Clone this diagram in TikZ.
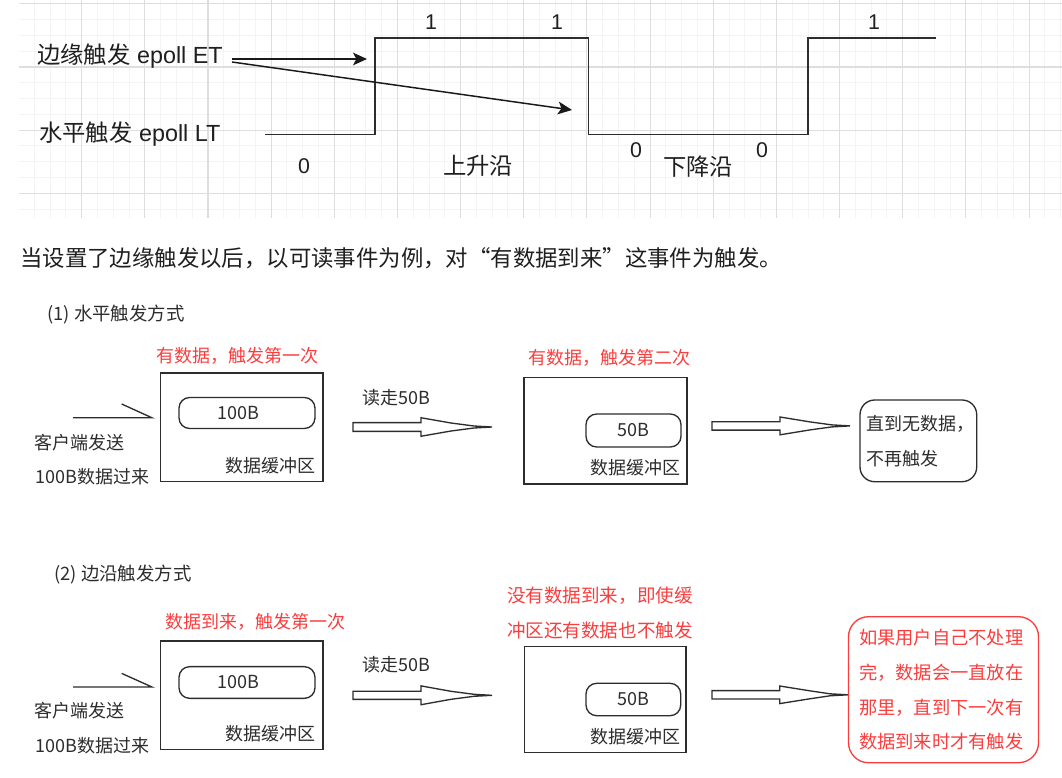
\documentclass[tikz,border=0pt]{standalone}
\usepackage{fontspec}
\setmainfont{Liberation Sans}
\newfontfamily\cjk{Noto Sans CJK SC}
\usetikzlibrary{arrows.meta}
\def\px{0.75pt}
\definecolor{redtx}{RGB}{250,62,62}
\definecolor{ink}{RGB}{45,45,45}
\newcommand\hollowarr[6]{%
  \draw[harr] (#1,#4-#5) -- (#2,#4-#5) -- (#2,#4-#6) -- (#2+30,#4-4) -- (#3-18,#4-1) -- (#3,#4)
    -- (#3-18,#4+1) -- (#2+30,#4+4) -- (#2,#4+#6) -- (#2,#4+#5) -- (#1,#4+#5) -- cycle;}
\tikzset{
  gridminor/.style={draw={rgb,255:red,244;green,244;blue,244}, line width=0.75pt},
  gridmajor/.style={draw={rgb,255:red,222;green,222;blue,222}, line width=0.8pt},
  wave/.style={draw=ink, line width=1.3pt, line join=miter},
  etarrow/.style={draw=black!90, line width=1.1pt, -{Stealth[length=10.5pt,width=9.5pt,inset=2.5pt]}},
  toplbl/.style={inner sep=0pt, text=black!88, font={\fontsize{17.5pt}{20pt}\selectfont}},
  digit/.style={inner sep=0pt, text=black!88, font={\fontsize{16pt}{18pt}\selectfont}},
  edge lbl/.style={inner sep=0pt, text=black!88, font={\cjk\fontsize{17.5pt}{20pt}\selectfont}},
  captxt/.style={inner sep=0pt, text=black!88, font={\cjk\fontsize{16.8pt}{20pt}\selectfont}},
  ttl/.style={inner sep=0pt, text=ink, font={\cjk\fontsize{13.8pt}{15pt}\selectfont}},
  lowtxt/.style={inner sep=0pt, text=ink, font={\cjk\fontsize{13.5pt}{16pt}\selectfont}},
  redtxt/.style={inner sep=0pt, text=redtx, font={\cjk\fontsize{13.5pt}{16pt}\selectfont}},
  redtxtb/.style={inner sep=0pt, text=redtx, font={\cjk\fontsize{13.9pt}{26.25pt}\selectfont}},
  buf/.style={draw=ink, line width=1.1pt, inner sep=0pt},
  inbox/.style={draw=ink, line width=1.0pt, rounded corners=8pt, inner sep=0pt, text=ink,
    font={\cjk\fontsize{13.5pt}{16pt}\selectfont}},
  lowline/.style={draw=ink, line width=1.0pt},
  harr/.style={draw=ink, line width=1.0pt, line join=miter},
  endbox/.style={draw=ink, line width=1.0pt, rounded corners=11pt, inner ysep=0pt, text=ink,
    font={\cjk\fontsize{13.5pt}{26.25pt}\selectfont}},
  redbox/.style={draw=redtx, line width=1.0pt, rounded corners=15pt, inner ysep=0pt, text=redtx,
    font={\cjk\fontsize{13.7pt}{26pt}\selectfont}},
}
\begin{document}
\begin{tikzpicture}[x=0.75pt,y=-0.75pt]
\useasboundingbox (0,0) rectangle (1062,777);
\fill[white] (0,0) rectangle (1062,777);
% grid
\foreach \k in {1,...,66} \draw[gridminor] ({18.5+15.79*\k},0) -- ({18.5+15.79*\k},218.3);
\foreach \k in {0,...,13} \draw[gridminor] (19,{3.8+15.8*\k}) -- (1062,{3.8+15.8*\k});
\foreach \k in {1,...,16} \draw[gridmajor] ({18.5+63.16*\k},0) -- ({18.5+63.16*\k},218.3);
\foreach \k in {0,...,3} \draw[gridmajor] (19,{3.8+63.2*\k}) -- (1062,{3.8+63.2*\k});
% waveform
\draw[wave] (265,134.5) -- (375,134.5) -- (375,38.2) -- (588.5,38.2) -- (588.5,134.5)
  -- (808,134.5) -- (808,38.2) -- (936,38.2);
\node[toplbl, anchor=west] (et) at (37,56) {{\cjk 边缘触发} epoll ET};
\node[toplbl, anchor=west] (lt) at (39,134) {{\cjk 水平触发} epoll LT};
\coordinate (etA) at (367,59);
\coordinate (etB) at (572,110);
\draw[etarrow] (et.east) ++(9,3) -- (etA);
\draw[etarrow] (et.east) ++(9,6) -- (etB);
\node[digit] (h1) at (431,22) {1};
\node[digit] (h2) at (557,22) {1};
\node[digit] (h3) at (874,22) {1};
\node[digit] (l1) at (304,166) {0};
\node[digit] (l2) at (636,150) {0};
\node[digit] (l3) at (762,150) {0};
\node[edge lbl] (rise) at (478,166) {上升沿};
\node[edge lbl] (fall) at (698,167) {下降沿};
% caption
\node[captxt, anchor=west] (capt) at (20,258) {当设置了边缘触发以后，以可读事件为例，对“有数据到来”这事件为触发。};
% ---------- section 1
\node[ttl, anchor=west] (t1) at (47,315) {(1) 水平触发方式};
\node[redtxt, anchor=west] (r1a) at (156,356) {有数据，触发第一次};
\node[buf, minimum width=162.4*\px, minimum height=108.9*\px] (b1) at (241.8,427.25) {};
\node[inbox, minimum width=136*\px, minimum height=31*\px] (i1) at (247,413) {100B\hspace*{13.5pt}};
\node[lowtxt, anchor=east] (bl1) at (316,466) {数据缓冲区};
\coordinate (c1a) at (73,417.8);
\coordinate (c1b) at (152,417.8);
\coordinate (c1c) at (121.7,404);
\draw[lowline] (c1a) -- (c1b) -- (c1c);
\node[lowtxt, anchor=west] (k1) at (34,443) {客户端发送};
\node[lowtxt, anchor=west] (k2) at (35.5,476.6) {100B数据过来};
\node[lowtxt, anchor=west] (rd1) at (362,397.5) {读走50B};
\hollowarr{353}{421}{492}{427}{4.4}{9.25}
\node[redtxt, anchor=west] (r1b) at (528,358) {有数据，触发第二次};
\node[buf, minimum width=163*\px, minimum height=106.3*\px] (b2) at (605.5,430.85) {};
\node[inbox, minimum width=95*\px, minimum height=33*\px] (i2) at (633.5,430.5) {50B};
\node[lowtxt, anchor=east] (bl2) at (681,468) {数据缓冲区};
\hollowarr{712}{780}{850}{425.9}{4.2}{8.9}
\node[endbox, minimum width=116.7*\px, minimum height=81.7*\px, text width=103*\px,
  align=left, inner xsep=6.7*\px] (e1) at (918.35,440.85) {直到无数据，\\不再触发};
% ---------- section 2
\node[ttl, anchor=west] (t2) at (54,575) {(2) 边沿触发方式};
\node[redtxt, anchor=west] (r2a) at (165,621.7) {数据到来，触发第一次};
\node[buf, minimum width=162.4*\px, minimum height=108.5*\px] (b3) at (241.8,695.25) {};
\node[inbox, minimum width=136*\px, minimum height=31.7*\px] (i3) at (247,682.5) {100B\hspace*{13.5pt}};
\node[lowtxt, anchor=east] (bl3) at (316,734) {数据缓冲区};
\coordinate (c2a) at (73,687);
\coordinate (c2b) at (152,687);
\coordinate (c2c) at (121.7,673.4);
\draw[lowline] (c2a) -- (c2b) -- (c2c);
\node[lowtxt, anchor=west] (k3) at (34,710.6) {客户端发送};
\node[lowtxt, anchor=west] (k4) at (35.5,745.4) {100B数据过来};
\node[lowtxt, anchor=west] (rd2) at (362,665) {读走50B};
\hollowarr{353}{421}{492}{695.3}{4.05}{9.4}
\node[redtxtb, align=left, anchor=west] (r2b) at (507,612.5) {没有数据到来，即使缓\\冲区还有数据也不触发};
\node[buf, minimum width=161.3*\px, minimum height=105.6*\px] (b4) at (605.35,699.5) {};
\node[inbox, minimum width=94.7*\px, minimum height=32.4*\px] (i4) at (633.35,699.5) {50B};
\node[lowtxt, anchor=east] (bl4) at (680.5,736.7) {数据缓冲区};
\hollowarr{712}{779.7}{848}{694.8}{4.15}{8.8}
\node[redbox, minimum width=189*\px, minimum height=146*\px, text width=169*\px,
  align=left, inner xsep=10.5*\px] (e2) at (943.5,689.7)
  {如果用户自己不处理\\完，数据会一直放在\\那里，直到下一次有\\数据到来时才有触发};
\end{tikzpicture}
\end{document}
